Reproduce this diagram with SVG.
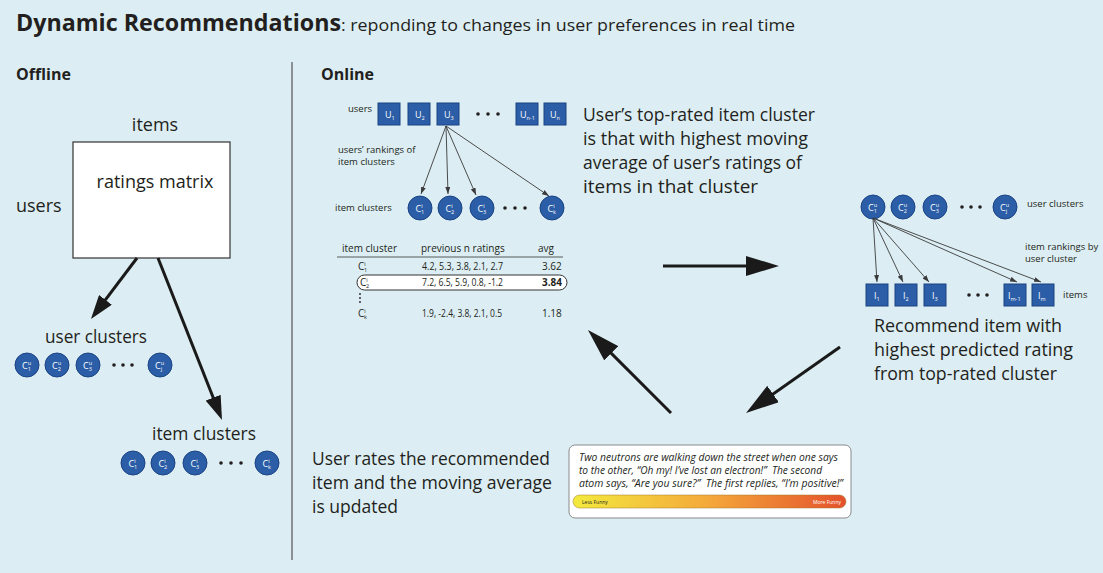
<svg xmlns="http://www.w3.org/2000/svg" width="1103" height="573" viewBox="0 0 1103 573">
<defs>
<style>
text{font-family:"Open Sans","Liberation Sans",sans-serif;fill:#231f20}
.h1{font-size:24px;font-weight:bold}
.sub{font-size:17px}
.sec{font-size:16px;font-weight:bold}
.big{font-size:18px}
.lab{font-size:9.5px}
.tab{font-size:10px}
.nl{font-size:9px;fill:#fff}
.sm{font-size:5.5px}
.node{fill:#2b5ea7;stroke:#1b4384;stroke-width:1}
.dot{fill:#231f20}
.thin{stroke:#3a3a3a;stroke-width:0.9;fill:none}
.thick{stroke:#1a1a1a;stroke-width:3;fill:none}
.joke{font-size:11px;font-style:italic}
.tiny{font-size:5px}
</style>
<marker id="small" viewBox="0 0 7 5" refX="7" refY="2.5" markerWidth="7" markerHeight="5" markerUnits="userSpaceOnUse" orient="auto"><path d="M0,0 L7,2.5 L0,5 z" fill="#3a3a3a"/></marker>
<marker id="med" viewBox="0 0 24 16" refX="12" refY="8" markerWidth="24" markerHeight="16" markerUnits="userSpaceOnUse" orient="auto"><path d="M0,0 L24,8 L0,16 z" fill="#1a1a1a"/></marker>
<marker id="big" viewBox="0 0 33 20" refX="13" refY="10" markerWidth="33" markerHeight="20" markerUnits="userSpaceOnUse" orient="auto"><path d="M0,0 L33,10 L0,20 z" fill="#1a1a1a"/></marker>
<linearGradient id="funny" x1="0" y1="0" x2="1" y2="0">
<stop offset="0" stop-color="#f3ea3e"/>
<stop offset="0.5" stop-color="#f4a83b"/>
<stop offset="1" stop-color="#e4512b"/>
</linearGradient>
</defs>
<rect x="0" y="0" width="1103" height="573" fill="#dceef3"/>

<g id="title">
<text x="16" y="31" class="h1" textLength="325" lengthAdjust="spacingAndGlyphs">Dynamic Recommendations</text>
<text x="341" y="31" class="sub" textLength="454" lengthAdjust="spacingAndGlyphs">: reponding to changes in user preferences in real time</text>
</g>
<g id="section-offline"><text x="16" y="80" class="sec">Offline</text></g>
<g id="section-online"><text x="321" y="80" class="sec">Online</text></g>
<line id="divider" x1="292" y1="62" x2="292" y2="560" stroke="#555" stroke-width="1.2"/>

<!-- Offline -->
<g id="ratings-matrix">
<rect x="73" y="142" width="157" height="116" fill="#fff" stroke="#333" stroke-width="1.2"/>
<text x="155" y="188" class="big" text-anchor="middle">ratings matrix</text>
</g>
<g id="label-items"><text x="155" y="131" class="big" text-anchor="middle">items</text></g>
<g id="label-users"><text x="16" y="212" class="big">users</text></g>

<g id="offline-user-clusters">
<text x="45" y="343" class="big" textLength="102" lengthAdjust="spacingAndGlyphs">user clusters</text>
<circle class="node" cx="27" cy="365" r="12"/><text class="nl" x="22" y="368.5">C<tspan class="sm" dy="-4">u</tspan><tspan class="sm" dx="-3.2" dy="6">1</tspan></text>
<circle class="node" cx="57" cy="365" r="12"/><text class="nl" x="52" y="368.5">C<tspan class="sm" dy="-4">u</tspan><tspan class="sm" dx="-3.2" dy="6">2</tspan></text>
<circle class="node" cx="88" cy="365" r="12"/><text class="nl" x="83" y="368.5">C<tspan class="sm" dy="-4">u</tspan><tspan class="sm" dx="-3.2" dy="6">3</tspan></text>
<circle class="dot" cx="114" cy="365" r="1.8"/><circle class="dot" cx="123" cy="365" r="1.8"/><circle class="dot" cx="132" cy="365" r="1.8"/>
<circle class="node" cx="160" cy="365" r="12"/><text class="nl" x="155" y="368.5">C<tspan class="sm" dy="-4">u</tspan><tspan class="sm" dx="-3.2" dy="6">j</tspan></text>
</g>

<g id="offline-item-clusters">
<text x="152" y="440" class="big" textLength="104" lengthAdjust="spacingAndGlyphs">item clusters</text>
<circle class="node" cx="133" cy="463" r="12"/><text class="nl" x="128.5" y="466.5">C<tspan class="sm" dy="-4">i</tspan><tspan class="sm" dx="-1.6" dy="6">1</tspan></text>
<circle class="node" cx="163" cy="463" r="12"/><text class="nl" x="158.5" y="466.5">C<tspan class="sm" dy="-4">i</tspan><tspan class="sm" dx="-1.6" dy="6">2</tspan></text>
<circle class="node" cx="195" cy="463" r="12"/><text class="nl" x="190.5" y="466.5">C<tspan class="sm" dy="-4">i</tspan><tspan class="sm" dx="-1.6" dy="6">3</tspan></text>
<circle class="dot" cx="221" cy="463" r="1.8"/><circle class="dot" cx="231" cy="463" r="1.8"/><circle class="dot" cx="241" cy="463" r="1.8"/>
<circle class="node" cx="267" cy="463" r="12"/><text class="nl" x="262.5" y="466.5">C<tspan class="sm" dy="-4">i</tspan><tspan class="sm" dx="-1.6" dy="6">k</tspan></text>
</g>

<!-- Online: users -->
<g id="online-users">
<text x="348" y="112" class="lab">users</text>
<rect class="node" x="378" y="103" width="22" height="22"/><text class="nl" x="385" y="118">U<tspan class="sm" dy="1.5">1</tspan></text>
<rect class="node" x="408" y="103" width="22" height="22"/><text class="nl" x="415" y="118">U<tspan class="sm" dy="1.5">2</tspan></text>
<rect class="node" x="437" y="103" width="22" height="22"/><text class="nl" x="444" y="118">U<tspan class="sm" dy="1.5">3</tspan></text>
<circle class="dot" cx="478" cy="114" r="1.8"/><circle class="dot" cx="488" cy="114" r="1.8"/><circle class="dot" cx="498" cy="114" r="1.8"/>
<rect class="node" x="516" y="103" width="22" height="22"/><text class="nl" x="520" y="118">U<tspan class="sm" dy="1.5">n-1</tspan></text>
<rect class="node" x="544" y="103" width="22" height="22"/><text class="nl" x="550" y="118">U<tspan class="sm" dy="1.5">n</tspan></text>
</g>
<g id="label-user-rankings">
<text x="338" y="153" class="lab">users’ rankings of</text>
<text x="338" y="165" class="lab">item clusters</text>
</g>
<g id="online-item-clusters">
<text x="335" y="211" class="lab">item clusters</text>
<circle class="node" cx="420" cy="208" r="12"/><text class="nl" x="415.5" y="211.5">C<tspan class="sm" dy="-4">i</tspan><tspan class="sm" dx="-1.6" dy="6">1</tspan></text>
<circle class="node" cx="450" cy="208" r="12"/><text class="nl" x="445.5" y="211.5">C<tspan class="sm" dy="-4">i</tspan><tspan class="sm" dx="-1.6" dy="6">2</tspan></text>
<circle class="node" cx="482" cy="208" r="12"/><text class="nl" x="477.5" y="211.5">C<tspan class="sm" dy="-4">i</tspan><tspan class="sm" dx="-1.6" dy="6">3</tspan></text>
<circle class="dot" cx="505" cy="208" r="1.8"/><circle class="dot" cx="515" cy="208" r="1.8"/><circle class="dot" cx="525" cy="208" r="1.8"/>
<circle class="node" cx="552" cy="208" r="12"/><text class="nl" x="547.5" y="211.5">C<tspan class="sm" dy="-4">i</tspan><tspan class="sm" dx="-1.6" dy="6">k</tspan></text>
</g>

<g id="ratings-table">
<text x="342" y="252" class="tab">item cluster</text>
<text x="421" y="252" class="tab">previous n ratings</text>
<text x="538" y="252" class="tab">avg</text>
<line x1="337" y1="257" x2="563" y2="257" stroke="#333" stroke-width="0.8"/>
<text x="358" y="270" class="tab">C<tspan class="sm" dy="-4">i</tspan><tspan class="sm" dx="-1.6" dy="6">1</tspan></text>
<text x="422" y="270" class="tab" textLength="81" lengthAdjust="spacingAndGlyphs">4.2, 5.3, 3.8, 2.1, 2.7</text>
<text x="542" y="270" class="tab">3.62</text>
<rect x="357" y="275" width="210" height="15" rx="7.5" fill="#fff" stroke="#333" stroke-width="1"/>
<text x="360" y="286" class="tab">C<tspan class="sm" dy="-4">i</tspan><tspan class="sm" dx="-1.6" dy="6">2</tspan></text>
<text x="422" y="286" class="tab" textLength="81" lengthAdjust="spacingAndGlyphs">7.2, 6.5, 5.9, 0.8, -1.2</text>
<text x="542" y="286" class="tab" font-weight="bold">3.84</text>
<circle class="dot" cx="360" cy="294" r="0.9"/><circle class="dot" cx="360" cy="298" r="0.9"/><circle class="dot" cx="360" cy="302" r="0.9"/>
<text x="358" y="317" class="tab">C<tspan class="sm" dy="-4">i</tspan><tspan class="sm" dx="-1.6" dy="6">k</tspan></text>
<text x="422" y="317" class="tab" textLength="80" lengthAdjust="spacingAndGlyphs">1.9, -2.4, 3.8, 2.1, 0.5</text>
<text x="542" y="317" class="tab">1.18</text>
</g>

<g id="text-top-rated">
<text x="583" y="121" class="big" textLength="232" lengthAdjust="spacingAndGlyphs">User’s top-rated item cluster</text>
<text x="583" y="145" class="big" textLength="225" lengthAdjust="spacingAndGlyphs">is that with highest moving</text>
<text x="583" y="169" class="big" textLength="219" lengthAdjust="spacingAndGlyphs">average of user’s ratings of</text>
<text x="583" y="193" class="big" textLength="175" lengthAdjust="spacingAndGlyphs">items in that cluster</text>
</g>

<!-- Right side -->
<g id="right-user-clusters">
<circle class="node" cx="873" cy="207" r="12"/><text class="nl" x="868" y="210.5">C<tspan class="sm" dy="-4">u</tspan><tspan class="sm" dx="-3.2" dy="6">1</tspan></text>
<circle class="node" cx="903" cy="207" r="12"/><text class="nl" x="898" y="210.5">C<tspan class="sm" dy="-4">u</tspan><tspan class="sm" dx="-3.2" dy="6">2</tspan></text>
<circle class="node" cx="935" cy="207" r="12"/><text class="nl" x="930" y="210.5">C<tspan class="sm" dy="-4">u</tspan><tspan class="sm" dx="-3.2" dy="6">3</tspan></text>
<circle class="dot" cx="962" cy="207" r="1.8"/><circle class="dot" cx="971" cy="207" r="1.8"/><circle class="dot" cx="980" cy="207" r="1.8"/>
<circle class="node" cx="1005" cy="207" r="12"/><text class="nl" x="1000" y="210.5">C<tspan class="sm" dy="-4">u</tspan><tspan class="sm" dx="-3.2" dy="6">j</tspan></text>
<text x="1027" y="207" class="lab">user clusters</text>
</g>
<g id="label-item-rankings">
<text x="1025" y="250" class="lab">item rankings by</text>
<text x="1025" y="262" class="lab">user cluster</text>
</g>
<g id="right-items">
<rect class="node" x="866" y="284" width="22" height="22"/><text class="nl" x="874" y="299">I<tspan class="sm" dy="1.5">1</tspan></text>
<rect class="node" x="895" y="284" width="22" height="22"/><text class="nl" x="903" y="299">I<tspan class="sm" dy="1.5">2</tspan></text>
<rect class="node" x="924" y="284" width="22" height="22"/><text class="nl" x="932" y="299">I<tspan class="sm" dy="1.5">3</tspan></text>
<circle class="dot" cx="969" cy="295" r="1.8"/><circle class="dot" cx="978" cy="295" r="1.8"/><circle class="dot" cx="987" cy="295" r="1.8"/>
<rect class="node" x="1004" y="284" width="22" height="22"/><text class="nl" x="1008" y="299">I<tspan class="sm" dy="1.5">m-1</tspan></text>
<rect class="node" x="1032" y="284" width="22" height="22"/><text class="nl" x="1038" y="299">I<tspan class="sm" dy="1.5">m</tspan></text>
<text x="1063" y="298" class="lab">items</text>
</g>

<g id="text-recommend">
<text x="874" y="332" class="big" textLength="188" lengthAdjust="spacingAndGlyphs">Recommend item with</text>
<text x="874" y="356" class="big" textLength="199" lengthAdjust="spacingAndGlyphs">highest predicted rating</text>
<text x="874" y="380" class="big" textLength="183" lengthAdjust="spacingAndGlyphs">from top-rated cluster</text>
</g>

<g id="text-user-rates">
<text x="312" y="465" class="big" textLength="238" lengthAdjust="spacingAndGlyphs">User rates the recommended</text>
<text x="312" y="489" class="big" textLength="240" lengthAdjust="spacingAndGlyphs">item and the moving average</text>
<text x="312" y="513" class="big" textLength="86" lengthAdjust="spacingAndGlyphs">is updated</text>
</g>

<g id="joke-box">
<rect x="569" y="445" width="282" height="73" rx="6" fill="#fff" stroke="#8a8a8a" stroke-width="1"/>
<text x="579" y="461" class="joke" textLength="259" lengthAdjust="spacingAndGlyphs">Two neutrons are walking down the street when one says</text>
<text x="579" y="474" class="joke" xml:space="preserve" textLength="243" lengthAdjust="spacingAndGlyphs">to the other, “Oh my! I’ve lost an electron!”  The second</text>
<text x="579" y="487" class="joke" xml:space="preserve" textLength="264" lengthAdjust="spacingAndGlyphs">atom says, “Are you sure?”  The first replies, “I’m positive!”</text>
<rect x="573" y="495" width="273" height="13" rx="6.5" fill="url(#funny)" stroke="#a07a2a" stroke-width="0.5"/>
<text x="582" y="503.5" class="tiny">Less Funny</text>
<text x="841" y="503.5" class="tiny" text-anchor="end" style="fill:#fff">More Funny</text>
</g>

<g id="connectors">
<line class="thick" x1="137" y1="258" x2="98.2" y2="309.4" marker-end="url(#med)"/>
<line class="thick" x1="158" y1="258" x2="217.6" y2="408.8" marker-end="url(#med)"/>
<line class="thin" x1="446" y1="126" x2="421" y2="194" marker-end="url(#small)"/>
<line class="thin" x1="446" y1="126" x2="448" y2="194" marker-end="url(#small)"/>
<line class="thin" x1="446" y1="126" x2="476" y2="195" marker-end="url(#small)"/>
<line class="thin" x1="446" y1="126" x2="549" y2="196" marker-end="url(#small)"/>
<line class="thin" x1="873" y1="218" x2="877" y2="282" marker-end="url(#small)"/>
<line class="thin" x1="873" y1="218" x2="903" y2="282" marker-end="url(#small)"/>
<line class="thin" x1="873" y1="218" x2="929" y2="282" marker-end="url(#small)"/>
<line class="thin" x1="873" y1="218" x2="1017" y2="282" marker-end="url(#small)"/>
<line class="thin" x1="873" y1="218" x2="1041" y2="282" marker-end="url(#small)"/>
<line class="thick" x1="663" y1="266" x2="759" y2="266" marker-end="url(#big)"/>
<line class="thick" x1="840" y1="347" x2="762.4" y2="401.5" marker-end="url(#big)"/>
<line class="thick" x1="671" y1="413" x2="602.1" y2="344.1" marker-end="url(#big)"/>
</g>
</svg>
